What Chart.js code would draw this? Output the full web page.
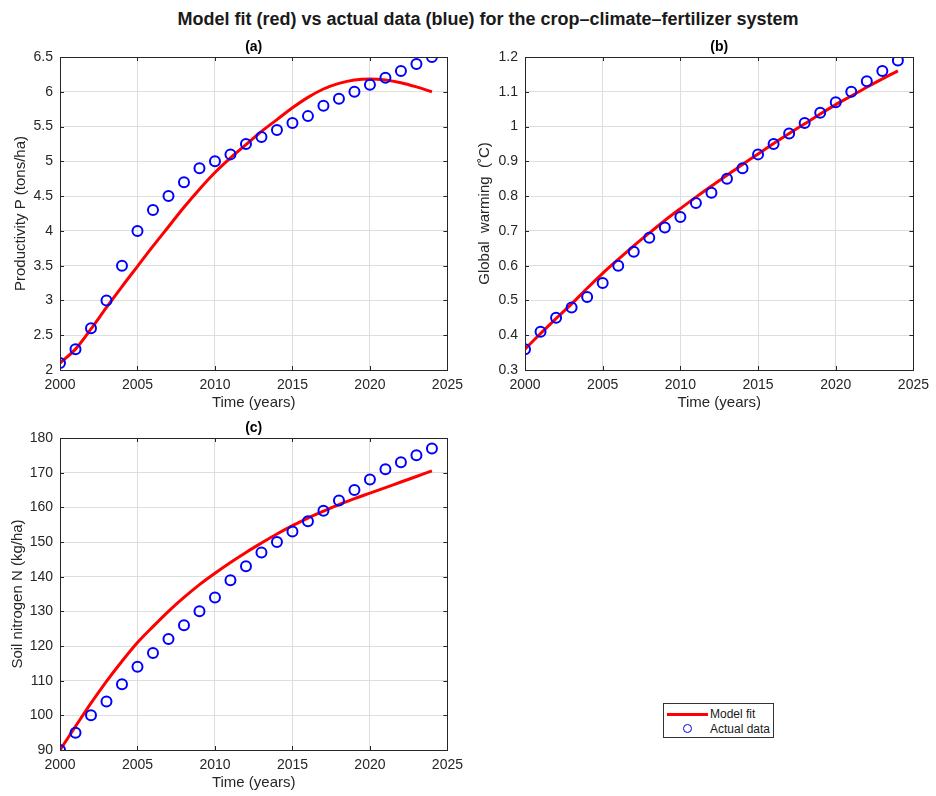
<!DOCTYPE html>
<html>
<head>
<meta charset="utf-8">
<script src="https://cdn.jsdelivr.net/npm/chart.js@4"></script>
<style>
  body { margin: 0; width: 936px; height: 796px; background: #fff; position: relative; font-family: "Liberation Sans", Arial, sans-serif; overflow: hidden; }
  #mainTitle { position: absolute; left: 0; width: 976px; top: 9px; text-align: center; font-weight: bold; font-size: 18px; color: #1a1a1a; }
  .plot { position: absolute; }
  #legend { position: absolute; left: 663px; top: 703px; width: 109px; height: 33px; border: 1px solid #333; background: #fff; font-size: 12px; color: #1a1a1a; }
  #legend .row { position: absolute; left: 0; height: 16px; line-height: 16px; }
  #legend .lbl { position: absolute; left: 46px; white-space: nowrap; }
</style>
</head>
<body>
<div id="mainTitle">Model fit (red) vs actual data (blue) for the crop–climate–fertilizer system</div>
<canvas id="chartA" class="plot" style="left:0px;top:36px;" width="470" height="376"></canvas>
<canvas id="chartB" class="plot" style="left:470px;top:36px;" width="466" height="376"></canvas>
<canvas id="chartC" class="plot" style="left:0px;top:417px;" width="470" height="375"></canvas>
<div id="legend">
  <div class="row" style="top:2px;width:109px;">
    <div style="position:absolute;left:3px;top:7px;width:41px;height:3px;background:#ff0000;"></div>
    <span class="lbl">Model fit</span>
  </div>
  <div class="row" style="top:17px;width:109px;">
    <div style="position:absolute;left:19px;top:3px;width:7px;height:7px;border:1.3px solid #0000ff;border-radius:50%;"></div>
    <span class="lbl">Actual data</span>
  </div>
</div>
<script>
// --- Datos ---
const years = [2000, 2001, 2002, 2003, 2004, 2005, 2006, 2007, 2008, 2009, 2010, 2011, 2012,
               2013, 2014, 2015, 2016, 2017, 2018, 2019, 2020, 2021, 2022, 2023, 2024];

// (a) Productividad P (tons/ha)
const prodActual = [2.1, 2.3, 2.6, 3.0, 3.5, 4.0, 4.3, 4.5, 4.7, 4.9, 5.0, 5.1, 5.25,
                    5.35, 5.45, 5.55, 5.65, 5.8, 5.9, 6.0, 6.1, 6.2, 6.3, 6.4, 6.5];
const prodFit = [2.1, 2.3, 2.59, 2.9, 3.2, 3.49, 3.78, 4.06, 4.34, 4.6, 4.84, 5.05, 5.24,
                 5.43, 5.6, 5.77, 5.92, 6.04, 6.12, 6.17, 6.185, 6.17, 6.13, 6.07, 6.0];

// (b) Calentamiento global (°C)
const warmActual = [0.36, 0.41, 0.45, 0.48, 0.51, 0.55, 0.60, 0.64, 0.68, 0.71, 0.74, 0.78, 0.81,
                    0.85, 0.88, 0.92, 0.95, 0.98, 1.01, 1.04, 1.07, 1.10, 1.13, 1.16, 1.19];
const warmFit = [0.36, 0.405, 0.448, 0.49, 0.535, 0.578, 0.618, 0.657, 0.694, 0.73, 0.764, 0.797, 0.829,
                 0.86, 0.891, 0.921, 0.951, 0.98, 1.008, 1.036, 1.063, 1.088, 1.113, 1.137, 1.16];

// (c) Nitrógeno del suelo N (kg/ha)
const nitroActual = [90, 95, 100, 104, 109, 114, 118, 122, 126, 130, 134, 139, 143,
                     147, 150, 153, 156, 159, 162, 165, 168, 171, 173, 175, 177];
const nitroFit = [90, 96.8, 103.5, 109.8, 115.6, 121, 125.6, 130, 134, 137.7, 141, 144.1, 147,
                  149.7, 152.3, 154.7, 156.9, 158.9, 160.8, 162.5, 164.1, 165.7, 167.3, 168.9, 170.5];

const xTicks = [2000, 2005, 2010, 2015, 2020, 2025];

const FONT = '"Liberation Sans", Arial, sans-serif';
const GRID = '#dedede';
const AXIS = '#262626';

function toPoints(ys) {
    return years.map((yr, i) => ({ x: yr, y: ys[i] }));
}

// Caja tipo MATLAB con marcas hacia adentro
const boxPlugin = {
    id: 'box',
    afterDatasetsDraw(chart) {
        const { ctx, chartArea: a, scales } = chart;
        ctx.save();
        ctx.strokeStyle = AXIS;
        ctx.lineWidth = 1;
        ctx.beginPath();
        scales.x.ticks.forEach(t => {
            const px = Math.round(scales.x.getPixelForValue(t.value)) + 0.5;
            ctx.moveTo(px, a.bottom); ctx.lineTo(px, a.bottom - 4);
            ctx.moveTo(px, a.top); ctx.lineTo(px, a.top + 4);
        });
        scales.y.ticks.forEach(t => {
            const py = Math.round(scales.y.getPixelForValue(t.value)) + 0.5;
            ctx.moveTo(a.left, py); ctx.lineTo(a.left + 4, py);
            ctx.moveTo(a.right, py); ctx.lineTo(a.right - 4, py);
        });
        ctx.stroke();
        ctx.strokeRect(Math.round(a.left) + 0.5, Math.round(a.top) + 0.5,
                       Math.round(a.right - a.left), Math.round(a.bottom - a.top));
        // título del subgráfico
        ctx.fillStyle = '#000';
        ctx.font = 'bold 14px ' + FONT;
        ctx.textAlign = 'center';
        ctx.textBaseline = 'middle';
        ctx.fillText(chart.options.plugins.box.text, (a.left + a.right) / 2, a.top - 10);
        ctx.restore();
    }
};

function makeChart(id, opts) {
    const ctx = document.getElementById(id).getContext('2d');
    return new Chart(ctx, {
        data: {
            datasets: [
                {
                    type: 'scatter',
                    label: 'Actual data',
                    data: toPoints(opts.actual),
                    pointStyle: 'circle',
                    pointRadius: 5,
                    pointBorderWidth: 2,
                    pointBorderColor: '#0000ff',
                    pointBackgroundColor: 'rgba(0,0,0,0)',
                    order: 0
                },
                {
                    type: 'line',
                    label: 'Model fit',
                    data: toPoints(opts.fit),
                    borderColor: '#ff0000',
                    borderWidth: 3,
                    pointRadius: 0,
                    tension: 0.35,
                    fill: false,
                    order: 1
                }
            ]
        },
        plugins: [boxPlugin],
        options: {
            responsive: false,
            animation: false,
            events: [],
            layout: { padding: { left: 0, top: 21, right: opts.padRight, bottom: 0 } },
            plugins: {
                legend: { display: false },
                tooltip: { enabled: false },
                box: { text: opts.title }
            },
            scales: {
                x: {
                    type: 'linear',
                    min: 2000, max: 2025,
                    afterBuildTicks: s => { s.ticks = xTicks.map(v => ({ value: v })); },
                    afterFit: s => { s.height = opts.xHeight; },
                    grid: { color: GRID, drawTicks: false },
                    border: { display: false },
                    ticks: { color: AXIS, padding: 7, font: { family: FONT, size: 14 }, maxRotation: 0,
                             callback: v => String(v) },
                    title: { display: true, text: 'Time (years)', color: AXIS,
                             font: { family: FONT, size: 15 }, padding: { top: 0, bottom: 0 } }
                },
                y: {
                    type: 'linear',
                    min: opts.yMin, max: opts.yMax,
                    ticks: { stepSize: opts.yStep, color: AXIS, padding: 7, font: { family: FONT, size: 14 },
                             callback: v => String(parseFloat(v.toFixed(2))) },
                    afterFit: s => { s.width = opts.yWidth; },
                    grid: { color: GRID, drawTicks: false },
                    border: { display: false },
                    title: { display: true, text: opts.yLabel, color: AXIS,
                             font: { family: FONT, size: 15 }, padding: { top: opts.yTitlePad, bottom: 0 } }
                }
            }
        }
    });
}

makeChart('chartA', {
    title: '(a)', actual: prodActual, fit: prodFit,
    yMin: 2, yMax: 6.5, yStep: 0.5, yLabel: 'Productivity P (tons/ha)',
    yWidth: 60, xHeight: 42, padRight: 18, yTitlePad: 12
});
makeChart('chartB', {
    title: '(b)', actual: warmActual, fit: warmFit,
    yMin: 0.3, yMax: 1.2, yStep: 0.1, yLabel: 'Global  warming  (\u02DAC)',
    yWidth: 55, xHeight: 42, padRight: 19, yTitlePad: 6
});
makeChart('chartC', {
    title: '(c)', actual: nitroActual, fit: nitroFit,
    yMin: 90, yMax: 180, yStep: 10, yLabel: 'Soil nitrogen N (kg/ha)',
    yWidth: 60, xHeight: 42, padRight: 18, yTitlePad: 9
});
</script>
</body>
</html>
